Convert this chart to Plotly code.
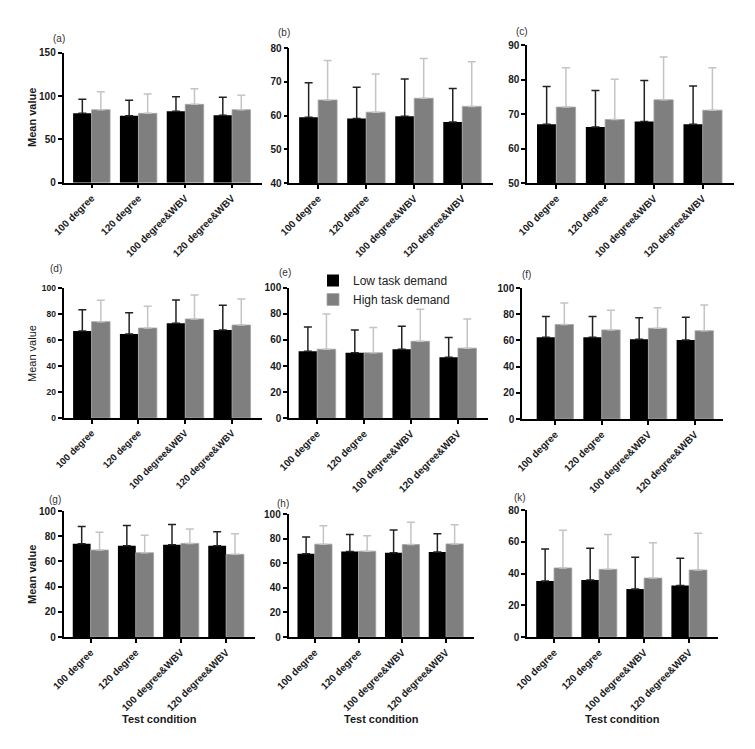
import plotly.graph_objects as go
from plotly.subplots import make_subplots

conditions = ["100 degree", "120 degree", "100 degree&WBV", "120 degree&WBV"]
series_names = ["Low task demand", "High task demand"]
panel_labels = ["(a)", "(b)", "(c)", "(d)", "(e)", "(f)", "(g)", "(h)", "(k)"]

# mean values per panel (a..k)
low_mean = [
    [80.0, 77.3, 82.3, 77.7],
    [59.5, 59.1, 59.8, 58.1],
    [67.0, 66.2, 67.8, 67.0],
    [66.9, 64.6, 72.8, 67.7],
    [51.4, 50.1, 52.9, 46.8],
    [62.4, 62.4, 60.9, 60.4],
    [74.1, 72.5, 73.3, 72.5],
    [67.6, 69.5, 68.4, 69.2],
    [35.2, 35.9, 30.2, 32.5],
]
low_sd = [
    [16.2, 17.7, 16.9, 20.8],
    [10.2, 9.3, 11.0, 9.9],
    [11.0, 10.6, 11.9, 11.1],
    [16.4, 16.4, 18.0, 19.0],
    [18.6, 17.6, 17.6, 15.0],
    [15.9, 15.9, 16.3, 17.3],
    [13.5, 15.9, 15.9, 11.1],
    [13.6, 13.9, 18.5, 14.7],
    [20.3, 20.0, 20.0, 17.1],
]
high_mean = [
    [84.2, 80.0, 90.4, 84.2],
    [64.6, 61.0, 65.1, 62.7],
    [72.0, 68.4, 74.1, 71.1],
    [74.1, 69.2, 76.2, 71.5],
    [52.9, 50.1, 59.0, 53.7],
    [72.1, 68.0, 69.3, 67.3],
    [69.0, 66.9, 74.3, 65.6],
    [75.5, 69.8, 75.2, 75.7],
    [43.5, 42.6, 37.1, 42.2],
]
high_sd = [
    [20.8, 22.3, 18.1, 16.6],
    [11.7, 11.3, 11.8, 13.2],
    [11.4, 11.7, 12.4, 12.3],
    [16.4, 16.7, 18.4, 20.0],
    [27.0, 19.4, 24.5, 22.4],
    [16.4, 15.1, 15.6, 19.7],
    [14.1, 13.8, 11.4, 16.4],
    [15.0, 12.5, 18.0, 15.6],
    [23.8, 22.0, 22.2, 23.2],
]
y_ticks = [
    [0, 50, 100, 150],
    [40, 50, 60, 70, 80],
    [50, 60, 70, 80, 90],
    [0, 20, 40, 60, 80, 100],
    [0, 20, 40, 60, 80, 100],
    [0, 20, 40, 60, 80, 100],
    [0, 20, 40, 60, 80, 100],
    [0, 20, 40, 60, 80, 100],
    [0, 20, 40, 60, 80],
]

# page body has an 8px margin, so the figure is shifted; work in screen pixels
OFF = 8
W, H = 755 - OFF, 749 - OFF


def fx(px):
    return (px - OFF) / W


def fy(py):
    return 1 - (py - OFF) / H


# plot boxes in screen pixels: left, right, top, bottom
boxes = [
    (63.5, 262, 52.7, 182.7), (289.3, 493, 48, 183), (527, 734, 45, 183),
    (63.5, 262, 288, 418), (289, 488, 287.7, 418.3), (522, 723, 288, 419),
    (63.5, 255, 511, 637), (288.5, 474, 514, 637), (527, 718, 510, 637),
]
label_pos = [(59, 39), (284, 33), (521.5, 32), (56, 268), (285, 273),
             (526.5, 274), (55, 499), (283, 503), (519.5, 497)]

FONT = "Liberation Sans, Arial, sans-serif"
BLACK = "#000000"
GREY = "#7f7f7f"

fig = make_subplots(rows=3, cols=3)

for i in range(9):
    r, c = i // 3 + 1, i % 3 + 1
    fig.add_trace(go.Bar(
        x=conditions, y=low_mean[i], name=series_names[0],
        marker=dict(color=BLACK, line=dict(width=0)),
        error_y=dict(type="data", symmetric=False, array=low_sd[i],
                     arrayminus=[0] * 4, color="#222222", thickness=1.5, width=4),
        showlegend=(i == 4), legendgroup="low",
    ), row=r, col=c)
    fig.add_trace(go.Bar(
        x=conditions, y=high_mean[i], name=series_names[1],
        marker=dict(color=GREY, line=dict(width=0.8, color="#a6a6a6")),
        error_y=dict(type="data", symmetric=False, array=high_sd[i],
                     arrayminus=[0] * 4, color="#c4c4c4", thickness=1.5, width=4),
        showlegend=(i == 4), legendgroup="high",
    ), row=r, col=c)

    x0, x1, yt, yb = boxes[i]
    n = "" if i == 0 else str(i + 1)
    xr = [-0.71, 3.6] if i == 5 else [-0.6, 3.64]
    # panel (d) uses slightly smaller tick text
    ysz, xsz = (8.5, 9.5) if i == 3 else (10, 10)
    fig.update_layout({
        f"xaxis{n}": dict(
            domain=[fx(x0), fx(x1)], range=xr, showline=True, linecolor=BLACK,
            linewidth=1.5, ticks="outside", ticklen=4, tickwidth=1.5,
            tickcolor=BLACK, tickangle=-45, showgrid=False, zeroline=False,
            automargin=False,
            tickfont=dict(family=FONT, size=xsz, color="#1a1a1a", weight="bold"),
        ),
        f"yaxis{n}": dict(
            domain=[fy(yb), fy(yt)], range=[y_ticks[i][0], y_ticks[i][-1]],
            tickvals=y_ticks[i], showline=True, linecolor=BLACK, linewidth=1.5,
            ticks="outside", ticklen=4, tickwidth=1.5, tickcolor=BLACK,
            showgrid=False, zeroline=False, automargin=False,
            tickfont=dict(family=FONT, size=ysz, color="#1a1a1a", weight="bold"),
        ),
    })

annotations = []
for i, lab in enumerate(panel_labels):
    px, py = label_pos[i]
    annotations.append(dict(text=lab, x=fx(px), y=fy(py), xref="paper", yref="paper",
                            showarrow=False, xanchor="center", yanchor="middle",
                            font=dict(family=FONT, size=10, color="#333333")))

for py, weight in [(117, "bold"), (353, "normal"), (574, "bold")]:
    annotations.append(dict(text="Mean value", x=fx(32), y=fy(py), xref="paper",
                            yref="paper", showarrow=False, textangle=-90,
                            xanchor="center", yanchor="middle",
                            font=dict(family=FONT, size=11, color="#1a1a1a", weight=weight)))

for i in (6, 7, 8):
    x0, x1, _, _ = boxes[i]
    annotations.append(dict(text="Test condition", x=fx((x0 + x1) / 2), y=fy(719),
                            xref="paper", yref="paper", showarrow=False,
                            xanchor="center", yanchor="middle",
                            font=dict(family=FONT, size=11, color="#1a1a1a", weight="bold")))

fig.update_layout(
    width=W, height=H,
    margin=dict(l=0, r=0, t=0, b=0, autoexpand=False),
    paper_bgcolor="white", plot_bgcolor="white",
    barmode="group", bargap=0.21, bargroupgap=0,
    annotations=annotations,
    legend=dict(x=fx(313), y=fy(266), xanchor="left", yanchor="top",
                bgcolor="rgba(0,0,0,0)", font=dict(family=FONT, size=12, color="#222222"),
                tracegroupgap=0),
)

fig.write_html("out.html")
